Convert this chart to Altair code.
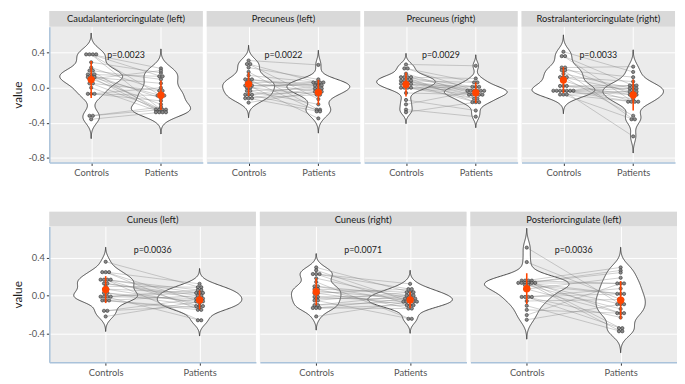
import altair as alt
import pandas as pd
import numpy as np

FONT = "Lato"

regions = [
    "Caudalanteriorcingulate (left)", "Precuneus (left)", "Precuneus (right)",
    "Rostralanteriorcingulate (right)", "Cuneus (left)", "Cuneus (right)",
    "Posteriorcingulate (left)",
]
p_labels = ["p=0.0023", "p=0.0022", "p=0.0029", "p=0.0033", "p=0.0036", "p=0.0071", "p=0.0036"]
group_names = ["Controls", "Patients"]

controls = [
    [0.38, 0.38, 0.38, 0.38, 0.29, 0.23, 0.195, 0.195, 0.15, 0.15, 0.15, 0.12, 0.12, 0.12, 0.10, 0.10,
     0.05, 0.05, 0.0, -0.07, -0.07, -0.07, -0.32, -0.32, -0.36],
    [0.31, 0.27, 0.27, 0.23, 0.18, 0.14, 0.095, 0.095, 0.095, 0.06, 0.06, 0.025, 0.025, 0.025, 0.0, 0.0,
     -0.035, -0.035, -0.08, -0.08, -0.08, -0.12, -0.12, -0.12, -0.17],
    [0.265, 0.22, 0.22, 0.16, 0.12, 0.12, 0.12, 0.12, 0.08, 0.08, 0.08, 0.08, 0.045, 0.045, 0.045, 0.045,
     0.0, 0.0, 0.0, 0.0, -0.06, -0.14, -0.19, -0.25, -0.28],
    [0.41, 0.36, 0.36, 0.23, 0.23, 0.20, 0.20, 0.16, 0.12, 0.12, 0.12, 0.08, 0.02, 0.02, 0.02,
     -0.035, -0.035, -0.035, -0.035, -0.035, -0.035, -0.035, -0.078, -0.078, -0.078],
    [0.36, 0.25, 0.25, 0.25, 0.17, 0.17, 0.17, 0.17, 0.13, 0.13, 0.10, 0.07, 0.07, 0.03, 0.03,
     -0.01, -0.01, -0.01, -0.01, -0.05, -0.05, -0.05, -0.16, -0.16, -0.22],
    [0.30, 0.27, 0.23, 0.23, 0.23, 0.185, 0.146, 0.10, 0.10, 0.07, 0.07, 0.05, 0.027, 0.027, -0.013, -0.013,
     -0.03, -0.05, -0.05, -0.10, -0.10, -0.13, -0.13, -0.13, -0.22],
    [0.51, 0.357, 0.16, 0.16, 0.16, 0.16, 0.136, 0.136, 0.136, 0.136, 0.136, 0.136, 0.112, 0.112, 0.07, 0.07,
     -0.013, -0.013, -0.013, -0.013, -0.056, -0.106, -0.15, -0.205, -0.255],
]
patients = [
    [0.13, -0.09, 0.22, -0.25, 0.17, -0.035, -0.28, 0.095, -0.12, 0.13, -0.25, -0.09, 0.05, -0.28, 0.195,
     -0.19, -0.25, -0.035, -0.28, 0.0, -0.15, -0.09, -0.22, -0.25, -0.28],
    [0.26, 0.06, -0.13, 0.095, -0.25, 0.06, -0.01, -0.27, 0.025, 0.06, -0.045, 0.04, -0.35, 0.025, -0.08,
     0.06, -0.19, -0.01, -0.045, 0.025, -0.25, -0.01, -0.08, -0.27, -0.045],
    [0.25, -0.035, 0.06, -0.08, -0.165, 0.105, -0.035, 0.01, -0.08, -0.035, -0.125, 0.06, -0.08, 0.01, -0.035,
     -0.165, -0.08, -0.035, 0.01, -0.125, -0.08, -0.26, -0.035, -0.33, -0.165],
    [0.18, 0.025, -0.16, 0.24, -0.08, -0.36, 0.12, -0.01, -0.045, -0.32, 0.07, -0.16, 0.025, -0.08, -0.01,
     -0.555, -0.045, 0.025, -0.125, -0.16, -0.01, -0.08, -0.36, -0.045, -0.16],
    [0.09, -0.06, 0.126, -0.15, 0.03, -0.11, 0.06, -0.26, 0.0, -0.03, 0.09, -0.08, 0.03, -0.11, -0.06,
     0.06, -0.26, -0.03, 0.03, -0.13, 0.0, -0.15, -0.03, -0.11, -0.06],
    [0.037, -0.063, 0.126, -0.1, 0.07, -0.03, -0.245, 0.003, -0.063, 0.037, -0.136, -0.03, 0.07, -0.1, 0.003,
     -0.063, -0.03, 0.037, -0.245, -0.063, 0.003, -0.136, -0.03, -0.1, -0.063],
    [-0.09, -0.04, 0.13, -0.344, 0.30, -0.185, 0.02, 0.268, -0.377, 0.13, -0.09, 0.245, -0.14, 0.02, 0.19,
     -0.185, -0.23, 0.076, -0.344, 0.02, -0.04, -0.377, -0.185, 0.13, -0.09],
]

TOP = dict(domain=[-0.853, 0.695], ticks=[-0.8, -0.4, 0.0, 0.4], width=156, height=138, strip=16,
           dx=0.048, p_y=0.37)
BOTTOM = dict(domain=[-0.705, 0.734], ticks=[-0.4, 0.0, 0.4], width=210, height=138, strip=15,
              dx=0.036, p_y=0.486)

ORANGE = "#FF4500"
BLUE_AXIS = "#a9c2da"


def nrd0(v):
    v = np.asarray(v, dtype=float)
    sd = v.std(ddof=1)
    q75, q25 = np.percentile(v, [75, 25])
    lo = min(sd, (q75 - q25) / 1.34) if q75 > q25 else sd
    return 0.9 * lo * len(v) ** -0.2


def make_panel(i, cfg, first):
    c, p = controls[i], patients[i]
    n = len(c)
    df = pd.DataFrame({
        "id": list(range(n)) * 2,
        "group": [group_names[0]] * n + [group_names[1]] * n,
        "gx": [1] * n + [2] * n,
        "value": c + p,
    })
    bw = float((nrd0(c) + nrd0(p)) / 2)
    base = alt.Chart(df)
    xsc = alt.Scale(domain=[0.4, 2.6], nice=False, zero=False)
    ysc = alt.Scale(domain=cfg["domain"], nice=False, zero=False)
    xax = alt.Axis(values=[1, 2], labelExpr="datum.value == 1 ? 'Controls' : 'Patients'", title=None,
                   grid=True, domainColor=BLUE_AXIS, domainWidth=1.5)
    if first:
        yax = alt.Axis(values=cfg["ticks"], title="value", grid=True,
                       labelExpr="replace(format(datum.value, '.1f'), '\u2212', '-')",
                       domainColor=BLUE_AXIS, domainWidth=1.5)
    else:
        yax = alt.Axis(values=cfg["ticks"], title=None, grid=True, labels=False, ticks=False, domain=False)

    def X(f):
        return alt.X(f, type="quantitative", scale=xsc, axis=xax)

    def Y(f):
        return alt.Y(f, type="quantitative", scale=ysc, axis=yax)

    violin = base.transform_density(
        "value", groupby=["gx"], as_=["v", "d"], extent=cfg["domain"], steps=300, bandwidth=bw
    ).transform_joinaggregate(md="max(d)").transform_filter(
        "datum.d > datum.md * 0.0015"
    ).transform_calculate(
        xl="datum.gx - 0.45 * datum.d / datum.md",
        xr="datum.gx + 0.45 * datum.d / datum.md",
    ).mark_area(orient="horizontal", fill="white", stroke="#333333", strokeWidth=0.9).encode(
        y=Y("v"), x=X("xl"), x2=alt.X2("xr"), detail="gx:N"
    )

    lines = base.mark_line(color="#7a7a7a", strokeWidth=0.6, opacity=0.6).encode(
        x=X("gx"), y=Y("value"), detail="id:N"
    )

    dots = base.transform_joinaggregate(
        n="count()", groupby=["gx", "value"]
    ).transform_window(
        r="row_number()", groupby=["gx", "value"], sort=[alt.SortField("id")]
    ).transform_calculate(
        xd=f"datum.gx + (datum.r - (datum.n + 1) / 2) * {cfg['dx']}"
    ).mark_circle(size=11, color="#8a8a8a", stroke="#333333", strokeWidth=0.6, opacity=1).encode(
        x=X("xd"), y=Y("value")
    )

    stats = base.transform_aggregate(
        m="mean(value)", s="stdev(value)", groupby=["gx"]
    ).transform_calculate(lo="datum.m - datum.s", hi="datum.m + datum.s")
    bar = stats.mark_rule(color=ORANGE, strokeWidth=1.6).encode(x=X("gx"), y=Y("lo"), y2=alt.Y2("hi"))
    mean = stats.mark_circle(color=ORANGE, size=55, opacity=1).encode(x=X("gx"), y=Y("m"))

    ptext = alt.Chart(pd.DataFrame({"p": [p_labels[i]]})).mark_text(
        font=FONT, fontSize=9, fontWeight="normal", color="#1a1a1a"
    ).encode(text="p:N", x=alt.datum(1.5, scale=xsc), y=alt.datum(cfg["p_y"], scale=ysc))

    plot = alt.layer(violin, lines, dots, bar, mean, ptext).properties(
        width=cfg["width"], height=cfg["height"]
    )

    sdf = pd.DataFrame({"t": [regions[i]]})
    strip_bg = alt.Chart(sdf).mark_rect(color="#d9d9d9").encode(
        x=alt.value(0), x2=alt.value(cfg["width"]), y=alt.value(0), y2=alt.value(cfg["strip"])
    )
    strip_tx = alt.Chart(sdf).mark_text(font=FONT, fontSize=9.5, fontWeight="normal", color="#1a1a1a",
                                        baseline="middle").encode(
        text="t:N", x=alt.value(cfg["width"] / 2), y=alt.value(cfg["strip"] / 2 + 0.5)
    )
    strip = alt.layer(strip_bg, strip_tx).properties(width=cfg["width"], height=cfg["strip"])
    return alt.vconcat(strip, plot, spacing=0)


top = alt.hconcat(*[make_panel(i, TOP, i == 0) for i in range(4)], spacing=4)
bottom = alt.hconcat(*[make_panel(i, BOTTOM, i == 4) for i in range(4, 7)], spacing=4)

chart = alt.vconcat(top, bottom, spacing=35).properties(
    padding={"left": 4, "top": 0, "right": 0, "bottom": 0}
).configure_view(
    fill="#ebebeb", stroke=None
).configure_axis(
    gridColor="white", gridWidth=1, tickColor="#333333", tickSize=3, labelColor="#555555",
    labelFont=FONT, labelFontSize=9.5, labelFontWeight="normal", titleFont=FONT, titleFontSize=12,
    titleColor="#1a1a1a", titleFontWeight="normal", labelPadding=2, titlePadding=3
)

chart.save("out.html", embed_options={"renderer": "svg", "actions": False})
